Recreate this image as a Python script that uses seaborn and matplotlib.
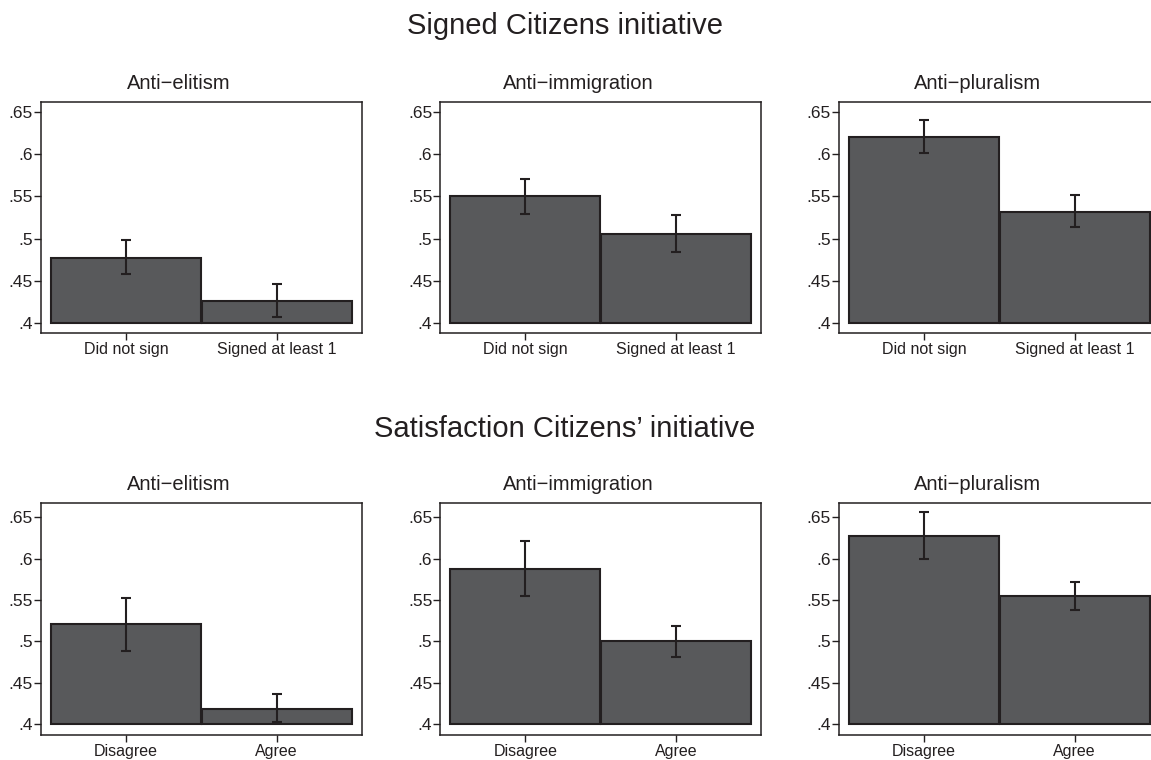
import matplotlib
matplotlib.use('Agg')
import numpy as np
import pandas as pd
import seaborn as sns
import matplotlib.pyplot as plt
from matplotlib.ticker import FuncFormatter

sns.set_theme(style="ticks")
plt.rcParams['font.family'] = ['Liberation Sans', 'DejaVu Sans']

row_titles = ["Signed Citizens initiative", "Satisfaction Citizens\u2019 initiative"]
panel_titles = ["Anti\u2212elitism", "Anti\u2212immigration", "Anti\u2212pluralism"]
cats_signed = ["Did not sign", "Signed at least 1"]
cats_satis = ["Disagree", "Agree"]

# signed citizens initiative: mean, lower, upper
signed_mean = [[0.477, 0.426], [0.550, 0.506], [0.621, 0.532]]
signed_lo = [[0.458, 0.407], [0.529, 0.484], [0.601, 0.514]]
signed_hi = [[0.498, 0.446], [0.571, 0.528], [0.641, 0.552]]

# satisfaction citizens' initiative
satis_mean = [[0.521, 0.419], [0.588, 0.500], [0.627, 0.555]]
satis_lo = [[0.489, 0.403], [0.555, 0.481], [0.600, 0.538]]
satis_hi = [[0.553, 0.436], [0.622, 0.519], [0.656, 0.572]]

yticks = [0.4, 0.45, 0.5, 0.55, 0.6, 0.65]
base = 0.4

W, H = 1151, 760
fig = plt.figure(figsize=(W / 100, H / 100), dpi=100)
fig.patch.set_facecolor('white')

col_left = [40.7, 440, 838.7]
ax_w = 321.3
rows = [
    dict(top=102, bottom=333, ylim=(0.388, 0.662), cats=cats_signed,
         mean=signed_mean, lo=signed_lo, hi=signed_hi, title_y=26),
    dict(top=503.3, bottom=735, ylim=(0.387, 0.667), cats=cats_satis,
         mean=satis_mean, lo=satis_lo, hi=satis_hi, title_y=429),
]

fmt = FuncFormatter(lambda v, p: ("%g" % v).lstrip("0"))
dark = '#231f20'
fill = '#58595b'

for r, row in enumerate(rows):
    fig.text(565 / W, 1 - row['title_y'] / H, row_titles[r], ha='center', va='center',
             fontsize=21, color=dark)
    for c in range(3):
        ax = fig.add_axes([col_left[c] / W, 1 - row['bottom'] / H,
                           ax_w / W, (row['bottom'] - row['top']) / H])
        df = pd.DataFrame({'group': row['cats'], 'value': row['mean'][c]})
        sns.barplot(data=df, x='group', y='value', ax=ax, color=fill, saturation=1,
                    edgecolor=dark, linewidth=1.5, width=0.995, errorbar=None)
        # bars start at the .4 baseline
        for p, v in zip(ax.patches, row['mean'][c]):
            p.set_y(base)
            p.set_height(v - base)
        m = np.array(row['mean'][c])
        yerr = [m - np.array(row['lo'][c]), np.array(row['hi'][c]) - m]
        ax.errorbar([0, 1], m, yerr=yerr, fmt='none', ecolor=dark, elinewidth=1.5,
                    capsize=3.5, capthick=1.5)
        ax.set_xlim(-0.566, 1.566)
        ax.set_ylim(*row['ylim'])
        ax.set_yticks(yticks)
        ax.yaxis.set_major_formatter(fmt)
        ax.set_xlabel('')
        ax.set_ylabel('')
        ax.tick_params(axis='both', length=5, width=1, color=dark,
                       labelcolor=dark, pad=1.5)
        ax.tick_params(axis='x', labelsize=11.5)
        ax.tick_params(axis='y', labelsize=12.5, pad=0.5)
        for s in ax.spines.values():
            s.set_visible(True)
            s.set_color(dark)
            s.set_linewidth(1.1)
        ax.text(0.431, 1.08, panel_titles[c], transform=ax.transAxes, ha='center',
                va='center', fontsize=14.5, color=dark)

fig.savefig('out.png', dpi=100, facecolor='white')
